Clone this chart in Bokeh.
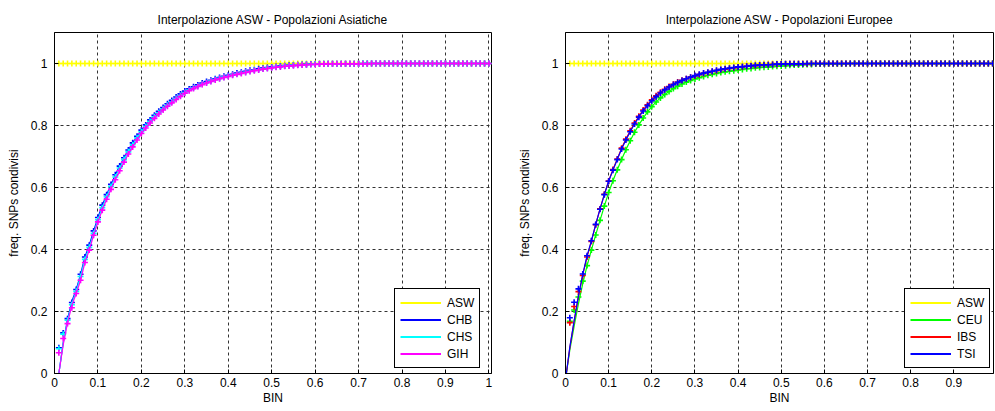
from bokeh.plotting import figure
from bokeh.layouts import row
from bokeh.models import FixedTicker, Legend, LegendItem, Range1d
from bokeh.embed import file_html
from bokeh.resources import INLINE

FONT = "Liberation Sans"

# ---------------- data ----------------
bins = [0.01, 0.02, 0.03, 0.04, 0.05, 0.06, 0.07, 0.08, 0.09, 0.10,
        0.11, 0.12, 0.13, 0.14, 0.15, 0.16, 0.17, 0.18, 0.19, 0.20,
        0.21, 0.22, 0.23, 0.24, 0.25, 0.26, 0.27, 0.28, 0.29, 0.30,
        0.31, 0.32, 0.33, 0.34, 0.35, 0.36, 0.37, 0.38, 0.39, 0.40,
        0.41, 0.42, 0.43, 0.44, 0.45, 0.46, 0.47, 0.48, 0.49, 0.50,
        0.51, 0.52, 0.53, 0.54, 0.55, 0.56, 0.57, 0.58, 0.59, 0.60,
        0.61, 0.62, 0.63, 0.64, 0.65, 0.66, 0.67, 0.68, 0.69, 0.70,
        0.71, 0.72, 0.73, 0.74, 0.75, 0.76, 0.77, 0.78, 0.79, 0.80,
        0.81, 0.82, 0.83, 0.84, 0.85, 0.86, 0.87, 0.88, 0.89, 0.90,
        0.91, 0.92, 0.93, 0.94, 0.95, 0.96, 0.97, 0.98, 0.99, 1.00]

asw = [1.0, 1.0, 1.0, 1.0, 1.0, 1.0, 1.0, 1.0, 1.0, 1.0,
       1.0, 1.0, 1.0, 1.0, 1.0, 1.0, 1.0, 1.0, 1.0, 1.0,
       1.0, 1.0, 1.0, 1.0, 1.0, 1.0, 1.0, 1.0, 1.0, 1.0,
       1.0, 1.0, 1.0, 1.0, 1.0, 1.0, 1.0, 1.0, 1.0, 1.0,
       1.0, 1.0, 1.0, 1.0, 1.0, 1.0, 1.0, 1.0, 1.0, 1.0,
       1.0, 1.0, 1.0, 1.0, 1.0, 1.0, 1.0, 1.0, 1.0, 1.0,
       1.0, 1.0, 1.0, 1.0, 1.0, 1.0, 1.0, 1.0, 1.0, 1.0,
       1.0, 1.0, 1.0, 1.0, 1.0, 1.0, 1.0, 1.0, 1.0, 1.0,
       1.0, 1.0, 1.0, 1.0, 1.0, 1.0, 1.0, 1.0, 1.0, 1.0,
       1.0, 1.0, 1.0, 1.0, 1.0, 1.0, 1.0, 1.0, 1.0, 1.0]

chb = [0.083, 0.131, 0.177, 0.229, 0.271, 0.320, 0.376, 0.414, 0.460, 0.503,
       0.543, 0.577, 0.610, 0.641, 0.669, 0.696, 0.721, 0.744, 0.765, 0.785,
       0.802, 0.818, 0.833, 0.846, 0.858, 0.870, 0.881, 0.892, 0.902, 0.911,
       0.918, 0.925, 0.931, 0.937, 0.942, 0.946, 0.951, 0.955, 0.959, 0.962,
       0.965, 0.969, 0.972, 0.975, 0.978, 0.980, 0.983, 0.985, 0.987, 0.989,
       0.990, 0.992, 0.993, 0.994, 0.995, 0.996, 0.997, 0.997, 0.998, 0.998,
       0.999, 0.999, 0.999, 0.999, 0.999, 0.999, 0.999, 0.999, 0.999, 0.999,
       1.0, 1.0, 1.0, 1.0, 1.0, 1.0, 1.0, 1.0, 1.0, 1.0,
       1.0, 1.0, 1.0, 1.0, 1.0, 1.0, 1.0, 1.0, 1.0, 1.0,
       1.0, 1.0, 1.0, 1.0, 1.0, 1.0, 1.0, 1.0, 1.0, 1.0]

chs = [0.080, 0.127, 0.172, 0.222, 0.265, 0.313, 0.368, 0.407, 0.452, 0.496,
       0.535, 0.570, 0.603, 0.634, 0.663, 0.690, 0.715, 0.738, 0.760, 0.780,
       0.797, 0.813, 0.828, 0.841, 0.853, 0.865, 0.876, 0.887, 0.897, 0.906,
       0.914, 0.921, 0.927, 0.933, 0.938, 0.943, 0.948, 0.952, 0.956, 0.959,
       0.963, 0.966, 0.969, 0.972, 0.975, 0.978, 0.980, 0.983, 0.985, 0.987,
       0.989, 0.990, 0.992, 0.993, 0.994, 0.995, 0.996, 0.997, 0.997, 0.998,
       0.998, 0.999, 0.999, 0.999, 0.999, 0.999, 0.999, 0.999, 0.999, 0.999,
       1.0, 1.0, 1.0, 1.0, 1.0, 1.0, 1.0, 1.0, 1.0, 1.0,
       1.0, 1.0, 1.0, 1.0, 1.0, 1.0, 1.0, 1.0, 1.0, 1.0,
       1.0, 1.0, 1.0, 1.0, 1.0, 1.0, 1.0, 1.0, 1.0, 1.0]

gih = [0.067, 0.113, 0.161, 0.212, 0.258, 0.301, 0.358, 0.398, 0.446, 0.489,
       0.527, 0.562, 0.594, 0.625, 0.654, 0.682, 0.708, 0.731, 0.753, 0.774,
       0.792, 0.808, 0.823, 0.837, 0.850, 0.862, 0.873, 0.884, 0.894, 0.904,
       0.912, 0.919, 0.926, 0.932, 0.937, 0.942, 0.947, 0.951, 0.955, 0.958,
       0.962, 0.965, 0.968, 0.971, 0.974, 0.977, 0.979, 0.982, 0.984, 0.986,
       0.988, 0.989, 0.991, 0.992, 0.993, 0.994, 0.995, 0.996, 0.997, 0.997,
       0.998, 0.998, 0.999, 0.999, 0.999, 0.999, 0.999, 0.999, 0.999, 0.999,
       0.999, 0.999, 1.0, 1.0, 1.0, 1.0, 1.0, 1.0, 1.0, 1.0,
       1.0, 1.0, 1.0, 1.0, 1.0, 1.0, 1.0, 1.0, 1.0, 1.0,
       1.0, 1.0, 1.0, 1.0, 1.0, 1.0, 1.0, 1.0, 1.0, 1.0]

ceu = [0.168, 0.205, 0.247, 0.298, 0.348, 0.398, 0.447, 0.494, 0.540, 0.584,
       0.622, 0.657, 0.690, 0.722, 0.751, 0.778, 0.802, 0.824, 0.844, 0.861,
       0.876, 0.889, 0.900, 0.910, 0.919, 0.927, 0.934, 0.940, 0.945, 0.950,
       0.954, 0.958, 0.962, 0.965, 0.968, 0.971, 0.973, 0.975, 0.977, 0.979,
       0.981, 0.983, 0.984, 0.986, 0.987, 0.988, 0.989, 0.990, 0.991, 0.992,
       0.993, 0.994, 0.995, 0.995, 0.996, 0.997, 0.997, 0.998, 0.998, 0.999,
       0.999, 0.999, 0.999, 0.999, 0.999, 1.0, 1.0, 1.0, 1.0, 1.0,
       1.0, 1.0, 1.0, 1.0, 1.0, 1.0, 1.0, 1.0, 1.0, 1.0,
       1.0, 1.0, 1.0, 1.0, 1.0, 1.0, 1.0, 1.0, 1.0, 1.0,
       1.0, 1.0, 1.0, 1.0, 1.0, 1.0, 1.0, 1.0, 1.0, 1.0]

ibs = [0.164, 0.216, 0.264, 0.316, 0.376, 0.426, 0.480, 0.531, 0.578, 0.621,
       0.658, 0.692, 0.727, 0.756, 0.783, 0.808, 0.830, 0.850, 0.867, 0.883,
       0.896, 0.907, 0.917, 0.926, 0.933, 0.940, 0.946, 0.951, 0.956, 0.960,
       0.964, 0.968, 0.971, 0.974, 0.977, 0.980, 0.982, 0.984, 0.986, 0.988,
       0.989, 0.991, 0.992, 0.993, 0.994, 0.995, 0.996, 0.997, 0.997, 0.998,
       0.998, 0.999, 0.999, 0.999, 0.999, 0.999, 1.0, 1.0, 1.0, 1.0,
       1.0, 1.0, 1.0, 1.0, 1.0, 1.0, 1.0, 1.0, 1.0, 1.0,
       1.0, 1.0, 1.0, 1.0, 1.0, 1.0, 1.0, 1.0, 1.0, 1.0,
       1.0, 1.0, 1.0, 1.0, 1.0, 1.0, 1.0, 1.0, 1.0, 1.0,
       1.0, 1.0, 1.0, 1.0, 1.0, 1.0, 1.0, 1.0, 1.0, 1.0]

tsi = [0.180, 0.230, 0.273, 0.321, 0.380, 0.428, 0.481, 0.530, 0.577, 0.620,
       0.656, 0.690, 0.724, 0.753, 0.780, 0.805, 0.827, 0.847, 0.864, 0.880,
       0.893, 0.905, 0.915, 0.924, 0.932, 0.939, 0.945, 0.951, 0.956, 0.961,
       0.965, 0.969, 0.972, 0.975, 0.978, 0.981, 0.983, 0.985, 0.987, 0.989,
       0.990, 0.991, 0.993, 0.994, 0.995, 0.996, 0.996, 0.997, 0.998, 0.998,
       0.999, 0.999, 0.999, 0.999, 0.999, 1.0, 1.0, 1.0, 1.0, 1.0,
       1.0, 1.0, 1.0, 1.0, 1.0, 1.0, 1.0, 1.0, 1.0, 1.0,
       1.0, 1.0, 1.0, 1.0, 1.0, 1.0, 1.0, 1.0, 1.0, 1.0,
       1.0, 1.0, 1.0, 1.0, 1.0, 1.0, 1.0, 1.0, 1.0, 1.0,
       1.0, 1.0, 1.0, 1.0, 1.0, 1.0, 1.0, 1.0, 1.0, 1.0]

# interpolation curves: start of the fitted line and its first values (before it joins the points)
chb_fit_head = [0.0, 0.100, 0.175, 0.233]
chs_fit_head = [0.0, 0.097, 0.170, 0.227]
gih_fit_head = [0.0, 0.092, 0.163, 0.220]

fit_start_right = 0.002
ceu_fit_head = [0.0, 0.075, 0.152, 0.225, 0.290]
ibs_fit_head = [0.0, 0.083, 0.168, 0.248, 0.318]
tsi_fit_head = [0.0, 0.085, 0.170, 0.250, 0.320]

xticks = [0.0, 0.1, 0.2, 0.3, 0.4, 0.5, 0.6, 0.7, 0.8, 0.9, 1.0]
xtick_labels = ["0", "0.1", "0.2", "0.3", "0.4", "0.5", "0.6", "0.7", "0.8", "0.9", "1"]
yticks = [0.0, 0.2, 0.4, 0.6, 0.8, 1.0]
ytick_labels = ["0", "0.2", "0.4", "0.6", "0.8", "1"]

left_title = "Interpolazione ASW - Popolazioni Asiatiche"
right_title = "Interpolazione ASW - Popolazioni Europee"
x_label = "BIN"
y_label = "freq. SNPs condivisi"

YELLOW, BLUE, CYAN, MAGENTA = "#FFFF00", "#0000FF", "#00FFFF", "#FF00FF"
GREEN, RED = "#00FF00", "#FF0000"


def make_fig(title, width, b_left, b_right, xmax):
    p = figure(width=width, height=411, output_backend="svg", toolbar_location=None,
               x_range=Range1d(0, xmax), y_range=Range1d(0, 1.1),
               min_border_left=b_left, min_border_right=b_right,
               min_border_top=32, min_border_bottom=38)
    p.title.text = title
    p.title.align = "center"
    p.title.text_font = FONT
    p.title.text_font_size = "12px"
    p.title.text_font_style = "normal"
    p.title.text_color = "#000000"
    p.title.standoff = 11
    p.background_fill_color = "white"
    p.border_fill_color = "white"
    p.outline_line_color = "black"
    p.outline_line_width = 1
    p.outline_line_alpha = 1

    p.xaxis.ticker = FixedTicker(ticks=xticks)
    p.xaxis.major_label_overrides = dict(zip(xticks, xtick_labels))
    p.yaxis.ticker = FixedTicker(ticks=yticks)
    p.yaxis.major_label_overrides = dict(zip(yticks, ytick_labels))
    p.xaxis.axis_label = x_label
    p.yaxis.axis_label = y_label
    for ax in (p.xaxis, p.yaxis):
        ax.axis_line_color = "black"
        ax.major_tick_line_color = "black"
        ax.major_tick_in = 4
        ax.major_tick_out = 0
        ax.minor_tick_line_color = None
        ax.major_label_text_font = FONT
        ax.major_label_text_font_size = "12px"
        ax.major_label_text_color = "#000000"
        ax.axis_label_text_font = FONT
        ax.axis_label_text_font_size = "12px"
        ax.axis_label_text_font_style = "normal"
        ax.axis_label_text_color = "#000000"
    p.xaxis.major_label_standoff = 4
    p.xaxis.axis_label_standoff = 1
    p.yaxis.major_label_standoff = 7
    p.yaxis.axis_label_standoff = 7

    for g in (p.xgrid, p.ygrid):
        g.grid_line_color = "#333333"
        g.grid_line_dash = "3 3"
        g.grid_line_width = 1
        g.grid_line_alpha = 1
    p.xgrid.ticker = FixedTicker(ticks=xticks)
    p.ygrid.ticker = FixedTicker(ticks=yticks)
    return p


def add_series(p, y, color, fit_x, fit_y):
    p.scatter(bins, y, marker="cross", size=6, line_width=1.6, color=color)
    p.line(fit_x, fit_y, line_color=color, line_width=1.2)
    # legend-only renderer (thicker line as in the legend box), kept outside the visible range
    return p.line([-5.0, -4.0], [-5.0, -4.0], line_color=color, line_width=2)


def add_legend(p, entries, loc):
    items = [LegendItem(label=lab, renderers=[r]) for lab, r in entries]
    lg = Legend(items=items, location=loc)
    lg.border_line_color = "black"
    lg.border_line_width = 1
    lg.border_line_alpha = 1
    lg.background_fill_color = "white"
    lg.background_fill_alpha = 1
    lg.label_text_font = FONT
    lg.label_text_font_size = "12px"
    lg.label_text_color = "#000000"
    lg.glyph_width = 41
    lg.glyph_height = 17
    lg.label_height = 17
    lg.label_standoff = 6
    lg.spacing = 0
    lg.padding = 5
    lg.margin = 0
    p.add_layout(lg)


# ---------------- left: Asian populations ----------------
p1 = make_fig(left_title, 505, 54, 14, 1.006)
r_asw1 = add_series(p1, asw, YELLOW, bins, asw)
r_chb = add_series(p1, chb, BLUE, bins, chb_fit_head + chb[4:])
r_chs = add_series(p1, chs, CYAN, bins, chs_fit_head + chs[4:])
r_gih = add_series(p1, gih, MAGENTA, bins, gih_fit_head + gih[4:])
add_legend(p1, [("ASW", r_asw1), ("CHB", r_chb), ("CHS", r_chs), ("GIH", r_gih)], (340, 5))

# ---------------- right: European populations ----------------
p2 = make_fig(right_title, 490, 60, 2, 0.992)
r_asw2 = add_series(p2, asw, YELLOW, bins, asw)
r_ceu = add_series(p2, ceu, GREEN, [fit_start_right] + bins, ceu_fit_head + ceu[4:])
r_ibs = add_series(p2, ibs, RED, [fit_start_right] + bins, ibs_fit_head + ibs[4:])
r_tsi = add_series(p2, tsi, BLUE, [fit_start_right] + bins, tsi_fit_head + tsi[4:])
add_legend(p2, [("ASW", r_asw2), ("CEU", r_ceu), ("IBS", r_ibs), ("TSI", r_tsi)], (339, 5))

layout = row(p1, p2)
open("out.html", "w").write(file_html(layout, INLINE))
